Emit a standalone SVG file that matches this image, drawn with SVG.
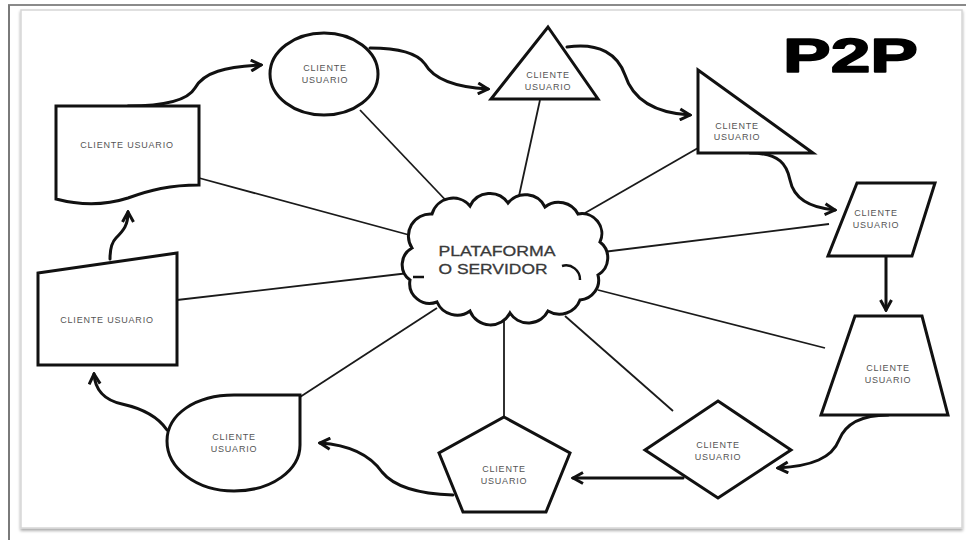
<svg xmlns="http://www.w3.org/2000/svg" width="966" height="540" viewBox="0 0 966 540">
  <defs>
    <style>
      .shape { fill: #fff; stroke: #111; stroke-width: 3; stroke-linejoin: miter; }
      .spoke { fill: none; stroke: #1a1a1a; stroke-width: 1.8; }
      .flow { fill: none; stroke: #111; stroke-width: 3; stroke-linecap: round; marker-end: url(#chev); }
      .lbl { font-family: "Liberation Sans", Arial, sans-serif; font-size: 9px; fill: #555; text-anchor: middle; letter-spacing: 0.8px; }
      .cloudtxt { font-family: "Liberation Sans", Arial, sans-serif; font-size: 14px; fill: #3a3a3a; text-anchor: middle; stroke: #3a3a3a; stroke-width: 0.3; }
      .title { font-family: "Liberation Sans", Arial, sans-serif; font-size: 49px; font-weight: bold; fill: #000; stroke: #000; stroke-width: 1.6; stroke-linejoin: round; }
    </style>
    <marker id="chev" viewBox="0 0 14 14" markerWidth="14" markerHeight="14" refX="12" refY="7" orient="auto" markerUnits="userSpaceOnUse">
      <path d="M2,1.5 L12,7 L2,12.5" fill="none" stroke="#111" stroke-width="3" stroke-linejoin="miter"/>
    </marker>
    <filter id="cardShadow" x="-5%" y="-5%" width="110%" height="110%">
      <feDropShadow dx="0" dy="2" stdDeviation="1.5" flood-color="#000" flood-opacity="0.35"/>
    </filter>
  </defs>

  <!-- page frame -->
  <rect x="0" y="0" width="966" height="540" fill="#fff"/>
  <line x1="8" y1="5" x2="966" y2="5" stroke="#8a8a8a" stroke-width="2"/>
  <line x1="9" y1="5" x2="9" y2="540" stroke="#7a7a7a" stroke-width="2"/>
  <rect x="21" y="10" width="941" height="518" fill="#fff" stroke="#d6d6d6" stroke-width="1.5" filter="url(#cardShadow)"/>

  <!-- title -->
  <text class="title" x="783" y="72" textLength="135" lengthAdjust="spacingAndGlyphs">P2P</text>

  <!-- connectors: spokes to the server and the ring of peer-to-peer arrows -->
  <g id="connectors">
    <line class="spoke" x1="360" y1="110" x2="455" y2="210"/>
    <line class="spoke" x1="540" y1="100" x2="517" y2="205"/>
    <line class="spoke" x1="698" y1="148" x2="585" y2="213"/>
    <line class="spoke" x1="829" y1="224" x2="603" y2="252"/>
    <line class="spoke" x1="825" y1="348" x2="598" y2="290"/>
    <line class="spoke" x1="673" y1="411" x2="565" y2="316"/>
    <line class="spoke" x1="504" y1="417" x2="504" y2="312"/>
    <line class="spoke" x1="300" y1="397" x2="437" y2="308"/>
    <line class="spoke" x1="177" y1="300" x2="409" y2="273"/>
    <line class="spoke" x1="199" y1="178" x2="413" y2="236"/>

    <path class="flow" d="M128,106 C165,106 188,100 195,88 C204,72 225,67 261,65"/>
    <path class="flow" d="M370,48 C400,48 418,54 425,64 C433,78 452,87 488,89"/>
    <path class="flow" d="M567,47 C600,42 618,55 625,75 C633,100 655,113 690,115"/>
    <path class="flow" d="M750,153 C780,153 787,165 790,180 C794,200 812,208 835,210"/>
    <path class="flow" d="M886,256 L886,310"/>
    <path class="flow" d="M888,415 C860,415 845,425 839,440 C832,458 812,466 778,468"/>
    <path class="flow" d="M683,478 L573,478"/>
    <path class="flow" d="M453,495 C420,494 395,488 382,472 C370,455 350,445 320,443"/>
    <path class="flow" d="M167,430 C157,415 140,408 122,404 C104,400 95,390 94,374"/>
    <path class="flow" d="M110,259 C110,248 112,242 116,238 C124,230 128,225 128,212"/>
  </g>

  <!-- server -->
  <g id="server">
    <path class="shape" d="M412,248 A22,22 0 0 1 432,214 A22,22 0 0 1 470,206 A22,22 0 0 1 508,203 A22,22 0 0 1 545,207 A22,22 0 0 1 578,214 A20,20 0 0 1 600,242 A20,20 0 0 1 598,275 A20,20 0 0 1 580,300 A22,22 0 0 1 548,311 A22,22 0 0 1 510,313 A22,22 0 0 1 470,311 A22,22 0 0 1 437,302 A20,20 0 0 1 410,280 A19,19 0 0 1 412,248 Z"/>
    <path d="M562,266 A14,14 0 0 1 580,280" fill="none" stroke="#111" stroke-width="2.5"/>
    <path d="M413,277 L424,277" fill="none" stroke="#111" stroke-width="2.5"/>
    <text class="cloudtxt" x="497" y="256" textLength="117" lengthAdjust="spacingAndGlyphs">PLATAFORMA</text>
    <text class="cloudtxt" x="493" y="274" textLength="109" lengthAdjust="spacingAndGlyphs">O SERVIDOR</text>
  </g>

  <!-- peers -->
  <g id="peer-document">
    <path class="shape" d="M56,106 L199,106 L199,185 C170,185 150,190 128,198 C100,207 75,204 56,199 Z"/>
    <text class="lbl" x="127" y="148">CLIENTE USUARIO</text>
  </g>

  <g id="peer-circle">
    <ellipse class="shape" cx="324" cy="74" rx="54" ry="41"/>
    <text class="lbl" x="325" y="71">CLIENTE</text>
    <text class="lbl" x="325" y="83">USUARIO</text>
  </g>

  <g id="peer-triangle">
    <polygon class="shape" points="548,27 598,99 491,99"/>
    <text class="lbl" x="548" y="78">CLIENTE</text>
    <text class="lbl" x="548" y="90">USUARIO</text>
  </g>

  <g id="peer-right-triangle">
    <polygon class="shape" points="698,70 813,153 698,153"/>
    <text class="lbl" x="737" y="129">CLIENTE</text>
    <text class="lbl" x="737" y="140">USUARIO</text>
  </g>

  <g id="peer-parallelogram">
    <polygon class="shape" points="857,183 935,183 912,256 828,256"/>
    <text class="lbl" x="876" y="216">CLIENTE</text>
    <text class="lbl" x="876" y="228">USUARIO</text>
  </g>

  <g id="peer-trapezoid">
    <polygon class="shape" points="855,316 922,316 948,415 821,415"/>
    <text class="lbl" x="888" y="371">CLIENTE</text>
    <text class="lbl" x="888" y="383">USUARIO</text>
  </g>

  <g id="peer-diamond">
    <polygon class="shape" points="718,401 791,450 718,498 645,450"/>
    <text class="lbl" x="718" y="448">CLIENTE</text>
    <text class="lbl" x="718" y="460">USUARIO</text>
  </g>

  <g id="peer-pentagon">
    <polygon class="shape" points="504,417 570,453 546,512 463,512 439,453"/>
    <text class="lbl" x="504" y="472">CLIENTE</text>
    <text class="lbl" x="504" y="484">USUARIO</text>
  </g>

  <g id="peer-teardrop">
    <path class="shape" d="M300,395 L300,445 C300,470 272,491 234,491 C196,491 167,468 167,441 C167,414 196,395 234,395 Z"/>
    <text class="lbl" x="234" y="440">CLIENTE</text>
    <text class="lbl" x="234" y="452">USUARIO</text>
  </g>

  <g id="peer-manual-input">
    <polygon class="shape" points="38,273 177,253 177,365 38,365"/>
    <text class="lbl" x="107" y="323">CLIENTE USUARIO</text>
  </g>
</svg>
